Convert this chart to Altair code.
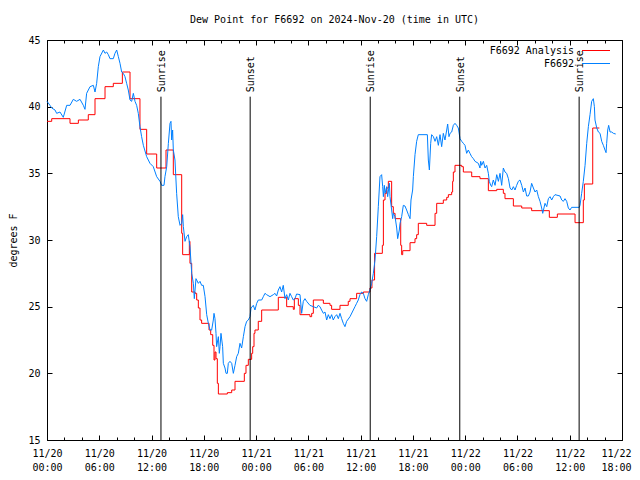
import altair as alt
import pandas as pd

FONT = "DejaVu Sans Mono"
TITLE = "Dew Point for F6692 on 2024-Nov-20 (time in UTC)"
Y_TITLE = "degrees F"
SERIES = ["F6692 Analysis", "F6692"]
COLORS = ["#ff0000", "#0080ff"]

# hours since 2024-11-20 00:00 UTC
red_hours = [0.0, 0.54, 2.64, 3.6, 4.74, 5.51, 6.66, 7.61, 8.65, 9.53, 10.67, 11.44, 12.59,
             13.66, 14.5, 15.46, 15.57, 16.34, 16.41, 16.61, 17.0, 17.18, 17.37, 17.56, 17.75,
             18.6, 18.79, 19.02, 19.17, 19.28, 19.4, 19.55, 19.67, 20.7, 21.2, 21.58, 22.65,
             22.84, 23.11, 23.49, 23.61, 23.76, 23.87, 24.25, 24.64, 26.55, 27.51, 28.27, 28.39,
             28.85, 29.04, 30.18, 30.38, 30.57, 31.72, 32.48, 32.67, 33.63, 34.58, 34.78, 35.54,
             36.31, 37.07, 37.3, 37.6, 38.49, 38.61, 38.8, 38.99, 39.18, 39.56, 39.75, 39.95,
             40.6, 40.71, 40.83, 41.67, 42.24, 42.43, 42.62, 43.58, 44.54, 44.73, 45.49, 45.88,
             46.07, 46.45, 46.56, 46.64, 46.83, 47.6, 47.79, 48.75, 49.7, 50.66, 51.62, 52.38,
             52.57, 53.53, 54.49, 55.63, 57.66, 58.58, 60.61, 61.56, 61.68, 62.64, 63.4]
red_values = [38.9, 39.1, 38.75, 39.0, 39.4, 40.6, 41.5, 41.75, 42.6, 40.6, 38.3, 36.45, 35.4,
              36.75, 34.9, 30.5, 28.9, 29.9, 28.25, 26.1, 26.0, 25.5, 24.9, 24.0, 23.75,
              23.25, 22.9, 22.1, 21.0, 21.6, 21.1, 19.25, 18.45, 18.55, 18.75, 19.4, 20.0,
              20.6, 21.05, 21.5, 22.0, 23.0, 23.25, 23.9, 24.75, 25.7, 25.0, 24.8, 25.6,
              25.1, 24.4, 24.25, 24.5, 25.5, 25.25, 25.1, 24.8, 25.1, 25.4, 25.6, 26.0,
              26.1, 26.4, 27.0, 29.0, 29.6, 33.0, 33.5, 33.9, 34.4, 32.5, 32.0, 31.6,
              29.6, 28.9, 29.2, 29.8, 30.1, 30.4, 31.25, 31.1, 32.0, 32.75, 33.0, 33.2,
              33.4, 33.6, 34.4, 35.1, 35.6, 35.5, 35.1, 34.75, 34.6, 33.7, 33.8, 33.5,
              33.1, 32.55, 32.4, 32.2, 31.7, 31.95, 31.3, 33.0, 34.2, 38.4, 38.4]

blue_hours = [0.0, 0.34, 0.54, 0.92, 1.11, 1.49, 1.87, 2.26, 2.64, 3.02, 3.4, 3.79, 4.17, 4.36,
              4.55, 4.94, 5.32, 5.51, 5.7, 5.89, 6.08, 6.47, 6.66, 6.85, 7.04, 7.23, 7.61, 7.8,
              8.0, 8.19, 8.38, 8.57, 8.76, 8.95, 9.14, 9.33, 9.53, 9.72, 9.91, 10.1, 10.29, 10.48,
              10.67, 10.86, 11.06, 11.44, 11.82, 12.2, 12.59, 12.97, 13.16, 13.43, 13.54, 13.74,
              13.93, 14.12, 14.23, 14.31, 14.42, 14.5, 14.69, 14.88, 15.07, 15.27, 15.46, 15.57,
              15.65, 15.84, 16.03, 16.22, 16.41, 16.61, 16.8, 16.91, 17.1, 17.37, 17.56, 17.75,
              17.94, 18.14, 18.33, 18.52, 18.71, 18.9, 19.09, 19.17, 19.28, 19.4, 19.47, 19.67,
              19.78, 19.86, 19.97, 20.16, 20.24, 20.43, 20.55, 20.7, 20.81, 21.0, 21.2, 21.39,
              21.58, 21.77, 21.96, 22.15, 22.34, 22.54, 22.73, 22.92, 23.11, 23.3, 23.42, 23.68,
              23.87, 24.07, 24.26, 24.64, 24.83, 25.02, 25.21, 25.6, 25.98, 26.17, 26.36, 26.55,
              26.74, 26.93, 27.12, 27.32, 27.51, 27.7, 27.89, 28.08, 28.27, 28.46, 28.65, 29.04,
              29.23, 29.42, 29.61, 29.8, 30.18, 30.57, 30.95, 31.14, 31.33, 31.52, 31.72, 31.91,
              32.1, 32.29, 32.48, 32.67, 32.86, 33.05, 33.25, 33.44, 33.63, 33.82, 34.01, 34.2,
              34.39, 34.78, 35.16, 35.35, 35.54, 35.73, 35.92, 36.12, 36.31, 36.5, 36.69, 36.88,
              37.07, 37.26, 37.46, 37.65, 37.84, 38.03, 38.22, 38.41, 38.53, 38.61, 38.72, 38.8,
              38.99, 39.1, 39.3, 39.37, 39.56, 39.68, 39.75, 39.95, 40.14, 40.25, 40.44, 40.52,
              40.71, 40.9, 41.09, 41.28, 41.48, 41.67, 41.78, 41.97, 42.05, 42.24, 42.43, 42.62,
              43.66, 43.77, 43.89, 44.04, 44.15, 44.35, 44.54, 44.73, 44.92, 45.11, 45.3, 45.49,
              45.68, 45.88, 45.99, 46.14, 46.26, 46.45, 46.64, 46.83, 47.02, 47.21, 47.41, 47.6,
              47.79, 47.98, 48.17, 48.36, 48.55, 48.74, 48.94, 49.13, 49.51, 49.7, 49.78, 49.89,
              50.09, 50.28, 50.47, 50.66, 50.77, 50.93, 51.04, 51.23, 51.43, 51.62, 51.81, 52.0,
              52.19, 52.38, 52.57, 52.76, 52.96, 53.15, 53.34, 53.53, 53.72, 53.91, 54.1, 54.29,
              54.49, 54.68, 54.87, 55.06, 55.25, 55.44, 55.63, 55.83, 56.02, 56.21, 56.4, 56.59,
              56.78, 56.9, 57.16, 57.36, 57.55, 57.74, 57.93, 58.12, 58.31, 58.89, 59.08, 59.27,
              59.46, 59.65, 59.84, 60.03, 60.22, 61.1, 61.18, 61.37, 61.56, 61.76, 61.95, 62.14,
              62.33, 62.52, 62.71, 62.83, 62.9, 63.1, 63.29, 63.48, 63.67, 63.86, 64.05, 64.17,
              64.24, 64.36, 64.47, 64.63, 64.82, 65.01, 65.28]
blue_values = [40.4, 40.1, 39.9, 39.75, 39.5, 39.6, 39.2, 40.1, 40.1, 40.55, 40.4, 40.55, 40.1, 39.8,
               41.0, 41.5, 41.6, 41.1, 41.75, 43.0, 43.75, 44.25, 44.0, 44.1, 43.9, 43.6, 43.6, 44.0,
               44.25, 43.75, 43.25, 42.6, 42.5, 42.25, 41.75, 41.25, 40.5, 40.4, 41.0, 40.4, 40.1, 39.5,
               38.5, 37.75, 37.1, 36.25, 35.75, 35.5, 34.75, 34.4, 34.1, 34.1, 34.75, 35.5,
               37.25, 38.75, 38.9, 37.5, 38.25, 36.75, 36.0, 33.5, 31.75, 31.1, 31.25, 31.9,
               31.0, 29.9, 30.25, 30.4, 29.5, 27.5, 26.75, 25.6, 27.1, 26.75, 26.9, 26.6,
               26.6, 25.75, 24.4, 23.75, 23.25, 23.25, 24.0, 24.5, 24.1, 23.0, 22.0, 22.75,
               21.5, 22.0, 23.0, 22.0, 20.75, 20.4, 20.0, 20.0, 20.75, 20.9, 20.75, 20.0,
               20.6, 21.25, 21.5, 22.25, 21.9, 22.75, 23.5, 23.9, 24.0, 24.25, 24.9, 25.1,
               24.75, 25.25, 25.5, 25.5, 25.75, 26.0, 25.9, 25.75, 25.9, 26.0, 25.8, 26.25,
               26.5, 26.1, 26.6, 25.6, 25.9, 25.5, 26.0, 25.75, 25.5, 25.6, 25.95, 25.9,
               24.5, 25.4, 25.6, 25.4, 25.1, 25.0, 24.9, 25.1, 25.0, 24.75, 24.5, 24.6,
               24.0, 24.4, 24.1, 24.4, 24.0, 24.25, 24.4, 24.1, 24.5, 24.1, 23.75, 23.5,
               23.9, 24.25, 24.75, 25.0, 25.25, 25.5, 25.9, 26.1, 26.0, 25.6, 25.4, 25.9,
               26.25, 26.75, 27.5, 28.5, 30.25, 32.5, 34.75, 34.9, 34.0, 33.25, 34.1, 33.5,
               34.0, 33.25, 34.25, 33.25, 32.25, 31.6, 32.0, 31.75, 30.9, 30.1, 30.75, 31.25,
               31.75, 32.6, 32.55, 32.25, 31.9, 31.6, 33.0, 33.75, 34.75, 36.4, 37.4, 37.9,
               37.9, 36.0, 35.25, 37.25, 37.9, 37.75, 37.4, 37.75, 37.1, 37.9, 37.0, 38.0,
               37.5, 38.25, 38.7, 37.75, 38.0, 38.1, 38.6, 38.75, 38.6, 38.4, 37.6, 37.4,
               37.25, 37.1, 36.5, 36.75, 36.5, 36.25, 36.1, 35.9, 35.75, 35.4, 35.9, 35.6,
               35.9, 35.4, 35.6, 35.0, 34.4, 34.1, 34.0, 34.5, 34.1, 34.9, 34.4, 35.0,
               34.1, 35.4, 35.1, 35.0, 34.6, 33.9, 33.75, 34.0, 33.75, 34.1, 34.4, 34.5,
               34.1, 33.6, 33.9, 33.3, 33.3, 33.6, 34.25, 33.9, 33.6, 33.75, 33.25, 32.9,
               32.4, 32.0, 32.75, 32.5, 33.1, 33.25, 33.0, 33.25, 33.4, 33.3, 33.0, 32.9,
               33.1, 32.9, 32.4, 32.25, 32.45, 32.45, 32.6, 33.5, 34.4, 35.6, 37.25, 38.5,
               39.4, 40.4, 40.6, 40.0, 39.0, 38.4, 38.1, 38.0, 37.4, 37.1, 36.75, 36.55,
               37.25, 38.25, 38.6, 38.1, 38.1, 38.0, 37.95]

event_hours = [13.08, 23.32, 37.1, 47.38, 61.08]
event_labels = ["Sunrise", "Sunset", "Sunrise", "Sunset", "Sunrise"]
EVENT_LINE_BOTTOM = 15.0
EVENT_LINE_TOP = 40.75
EVENT_LABEL_AT = 41.0

x_major = list(range(0, 67, 6))
x_minor = list(range(0, 67, 2))
y_major = [15, 20, 25, 30, 35, 40, 45]

W, H = 575, 400

red_df = pd.DataFrame({"hours": red_hours, "dew": red_values, "series": SERIES[0]})
blue_df = pd.DataFrame({"hours": blue_hours, "dew": blue_values, "series": SERIES[1]})
ev_df = pd.DataFrame({"hours": event_hours, "label": event_labels,
                      "low": EVENT_LINE_BOTTOM, "high": EVENT_LINE_TOP, "at": EVENT_LABEL_AT})

xscale = alt.Scale(domain=[0, 66], nice=False, zero=False)
yscale = alt.Scale(domain=[15, 45], nice=False, zero=False)


def tick_axis(orient, offset, values, size):
    # axis moved onto the opposite edge so its ticks point into the plot (gnuplot style)
    return alt.Axis(orient=orient, offset={"expr": str(-offset)}, values=values, tickSize=size,
                    ticks=True, labels=False, domain=False, grid=False, title=None,
                    tickColor="black", tickWidth=1)


label_expr = ("['11/' + (20 + floor(datum.value / 24)), "
              "(datum.value % 24 < 10 ? '0' : '') + (datum.value % 24) + ':00']")

x_main = alt.Axis(orient="bottom", values=x_major, labelExpr=label_expr, ticks=False, tickSize=0,
                  domain=False, grid=False, title=None, labelPadding=8, labelLineHeight=14,
                  labelFlush=False, labelOverlap=False, labelBound=False,
                  labelOffset={"condition": {"test": "datum.value >= 66", "value": -6}, "value": 0})
y_main = alt.Axis(orient="left", values=y_major, ticks=False, tickSize=0, domain=False, grid=False,
                  title=Y_TITLE, labelPadding=7, titlePadding=9, format="d")

# legend sample: a horizontal stroke 8 units long in the unit symbol box -> 28 px at size 49
LEGEND_STROKE = "M-4,0H4"
color = alt.Color(
    "series:N",
    scale=alt.Scale(domain=SERIES, range=COLORS),
    legend=alt.Legend(orient="none", legendX=544, legendY=5.5, direction="vertical", title=None,
                      symbolType=LEGEND_STROKE, symbolSize=49, symbolStrokeWidth=1,
                      labelAlign="right", labelOffset={"expr": "-27"}, labelFont=FONT,
                      labelFontSize=10, labelColor="black", padding=0, rowPadding=3,
                      labelLimit=0),
)

red = alt.Chart(red_df).mark_line(interpolate="step-after", strokeWidth=1).encode(
    x=alt.X("hours:Q", scale=xscale, axis=x_main),
    y=alt.Y("dew:Q", scale=yscale, axis=y_main),
    color=color,
)
blue = alt.Chart(blue_df).mark_line(strokeWidth=1).encode(
    x=alt.X("hours:Q", scale=xscale, axis=tick_axis("top", H, x_major, 5)),
    y=alt.Y("dew:Q", scale=yscale, axis=tick_axis("right", W, y_major, 5)),
    color=color,
)
rules = alt.Chart(ev_df).mark_rule(color="black", strokeWidth=1).encode(
    x=alt.X("hours:Q", scale=xscale, axis=tick_axis("top", H, x_minor, 3)),
    y=alt.Y("low:Q", scale=yscale, axis=tick_axis("left", W, y_major, 5)),
    y2="high:Q",
)
texts = alt.Chart(ev_df).mark_text(angle=270, align="left", baseline="middle", dx=1, dy=1,
                                   font=FONT, fontSize=10, color="black").encode(
    x=alt.X("hours:Q", scale=xscale, axis=tick_axis("bottom", H, x_major, 5)),
    y=alt.Y("at:Q", scale=yscale, axis=None),
    text="label:N",
)
minor_top = alt.Chart(ev_df).mark_point(opacity=0).encode(
    x=alt.X("hours:Q", scale=xscale, axis=tick_axis("bottom", H, x_minor, 3)),
    y=alt.Y("at:Q", scale=yscale, axis=None),
)

chart = (
    alt.layer(red, blue, rules, texts, minor_top)
    .resolve_axis(x="independent", y="independent")
    .properties(
        width=W, height=H,
        title=alt.TitleParams(TITLE, anchor="middle", frame="group", baseline="alphabetic",
                              offset=17, dy=15, font=FONT, fontSize=10, fontWeight="normal",
                              color="black"),
        padding={"left": 39, "top": 32, "right": 10, "bottom": 32},
        autosize=alt.AutoSizeParams(type="none"),
        background="white",
    )
    .configure(font=FONT)
    .configure_view(stroke="black", strokeWidth=1)
    .configure_axis(labelFont=FONT, labelFontSize=10, labelColor="black", titleFont=FONT,
                    titleFontSize=10, titleColor="black", titleFontWeight="normal")
)

chart.save("out.html", embed_options={"renderer": "svg", "actions": False})
